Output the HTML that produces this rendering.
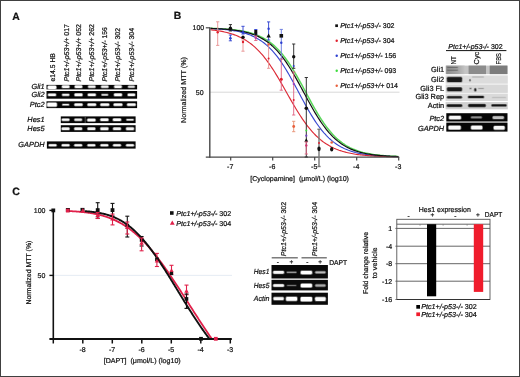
<!DOCTYPE html><html><head><meta charset="utf-8"><style>html,body{margin:0;padding:0;background:#fff;}svg{display:block;will-change:transform;}text{font-family:"Liberation Sans", sans-serif;text-rendering:geometricPrecision;stroke:#111;stroke-width:0.22px;}.hv{stroke-width:0.2px;}.md{stroke-width:0.2px;}.lt{stroke-width:0;}</style></head><body>
<svg width="520" height="377" viewBox="0 0 520 377">
<defs><filter id="bl" x="-50%" y="-50%" width="200%" height="200%"><feGaussianBlur stdDeviation="0.6"/></filter><filter id="bl2" x="-50%" y="-50%" width="200%" height="200%"><feGaussianBlur stdDeviation="0.9"/></filter></defs>
<rect x="0" y="0" width="520" height="377" fill="#fff" />
<rect x="0.5" y="0.5" width="519" height="376" fill="none" stroke="#404040" stroke-width="1"/>
<text x="12.2" y="19.6" font-size="10.4" text-anchor="start" fill="#111" font-weight="bold" >A</text>
<text x="0" y="0" font-size="7.0" text-anchor="start" fill="#111" textLength="28.4" lengthAdjust="spacingAndGlyphs" transform="translate(55.0,81.5) rotate(-90)" >e14.5 HB</text>
<text x="0" y="0" font-size="7.0" text-anchor="start" fill="#111" textLength="57.4" lengthAdjust="spacingAndGlyphs" transform="translate(68.7,81.5) rotate(-90)" ><tspan font-style="italic">Ptc1+/-p53+/+</tspan> 017</text>
<text x="0" y="0" font-size="7.0" text-anchor="start" fill="#111" textLength="57.4" lengthAdjust="spacingAndGlyphs" transform="translate(81.4,81.5) rotate(-90)" ><tspan font-style="italic">Ptc1+/-p53+/+</tspan> 052</text>
<text x="0" y="0" font-size="7.0" text-anchor="start" fill="#111" textLength="57.4" lengthAdjust="spacingAndGlyphs" transform="translate(94.4,81.5) rotate(-90)" ><tspan font-style="italic">Ptc1+/-p53+/+</tspan> 262</text>
<text x="0" y="0" font-size="7.0" text-anchor="start" fill="#111" textLength="54.4" lengthAdjust="spacingAndGlyphs" transform="translate(107.4,81.5) rotate(-90)" ><tspan font-style="italic">Ptc1+/-p53+/-</tspan> 156</text>
<text x="0" y="0" font-size="7.0" text-anchor="start" fill="#111" textLength="53.5" lengthAdjust="spacingAndGlyphs" transform="translate(120.4,81.5) rotate(-90)" ><tspan font-style="italic">Ptc1+/-p53-/-</tspan> 302</text>
<text x="0" y="0" font-size="7.0" text-anchor="start" fill="#111" textLength="53.5" lengthAdjust="spacingAndGlyphs" transform="translate(133.5,81.5) rotate(-90)" ><tspan font-style="italic">Ptc1+/-p53-/-</tspan> 304</text>
<rect x="46.5" y="84.9" width="90.6" height="4.5" fill="#050505" />
<text x="44.6" y="88.9" font-size="7.4" text-anchor="end" fill="#111" font-style="italic" >Gli1</text>
<rect x="46.5" y="91.0" width="90.6" height="7.700000000000003" fill="#050505" />
<text x="44.6" y="96.9" font-size="7.4" text-anchor="end" fill="#111" font-style="italic" >Gli2</text>
<rect x="46.5" y="101.3" width="90.6" height="6.799999999999997" fill="#050505" />
<text x="44.6" y="107.1" font-size="7.4" text-anchor="end" fill="#111" font-style="italic" >Ptc2</text>
<rect x="60.8" y="116.4" width="74.8" height="6.699999999999989" fill="#050505" />
<text x="44.6" y="122.0" font-size="7.4" text-anchor="end" fill="#111" font-style="italic" >Hes1</text>
<rect x="60.8" y="125.2" width="74.8" height="6.700000000000003" fill="#050505" />
<text x="44.6" y="130.7" font-size="7.4" text-anchor="end" fill="#111" font-style="italic" >Hes5</text>
<rect x="46.9" y="141.4" width="88.69999999999999" height="7.199999999999989" fill="#050505" />
<text x="44.6" y="147.0" font-size="7.4" text-anchor="end" fill="#111" font-style="italic" >GAPDH</text>
<rect x="47.00" y="85.20" width="10.00" height="4.30" rx="1.60" fill="#fff" opacity="0.45"/>
<rect x="47.80" y="85.80" width="8.40" height="3.10" rx="1.10" fill="#fff" opacity="1.0"/>
<rect x="61.20" y="85.00" width="9.00" height="3.50" rx="1.60" fill="#fff" opacity="0.43"/>
<rect x="62.00" y="85.60" width="7.40" height="2.30" rx="1.10" fill="#fff" opacity="0.95"/>
<rect x="74.00" y="85.00" width="9.00" height="3.50" rx="1.60" fill="#fff" opacity="0.43"/>
<rect x="74.80" y="85.60" width="7.40" height="2.30" rx="1.10" fill="#fff" opacity="0.95"/>
<rect x="87.40" y="85.10" width="8.80" height="3.30" rx="1.60" fill="#fff" opacity="0.41"/>
<rect x="88.20" y="85.70" width="7.20" height="2.10" rx="1.05" fill="#fff" opacity="0.92"/>
<rect x="100.40" y="85.10" width="8.80" height="3.30" rx="1.60" fill="#fff" opacity="0.41"/>
<rect x="101.20" y="85.70" width="7.20" height="2.10" rx="1.05" fill="#fff" opacity="0.9"/>
<rect x="113.50" y="85.00" width="9.00" height="3.50" rx="1.60" fill="#fff" opacity="0.43"/>
<rect x="114.30" y="85.60" width="7.40" height="2.30" rx="1.10" fill="#fff" opacity="0.95"/>
<rect x="127.30" y="85.20" width="8.20" height="3.10" rx="1.55" fill="#fff" opacity="0.35"/>
<rect x="128.10" y="85.80" width="6.60" height="1.90" rx="0.95" fill="#fff" opacity="0.78"/>
<rect x="47.30" y="93.10" width="9.40" height="3.50" rx="1.60" fill="#fff" opacity="0.43"/>
<rect x="48.10" y="93.70" width="7.80" height="2.30" rx="1.10" fill="#fff" opacity="0.95"/>
<rect x="61.40" y="93.30" width="8.60" height="3.10" rx="1.55" fill="#fff" opacity="0.41"/>
<rect x="62.20" y="93.90" width="7.00" height="1.90" rx="0.95" fill="#fff" opacity="0.92"/>
<rect x="73.80" y="93.00" width="9.40" height="3.70" rx="1.60" fill="#fff" opacity="0.44"/>
<rect x="74.60" y="93.60" width="7.80" height="2.50" rx="1.10" fill="#fff" opacity="0.97"/>
<rect x="87.10" y="93.10" width="9.40" height="3.50" rx="1.60" fill="#fff" opacity="0.43"/>
<rect x="87.90" y="93.70" width="7.80" height="2.30" rx="1.10" fill="#fff" opacity="0.95"/>
<rect x="100.90" y="93.60" width="7.80" height="2.50" rx="1.25" fill="#fff" opacity="0.41"/>
<rect x="101.70" y="94.20" width="6.20" height="1.30" rx="0.65" fill="#fff" opacity="0.9"/>
<rect x="113.30" y="93.00" width="9.40" height="3.70" rx="1.60" fill="#fff" opacity="0.44"/>
<rect x="114.10" y="93.60" width="7.80" height="2.50" rx="1.10" fill="#fff" opacity="0.97"/>
<rect x="127.00" y="93.10" width="8.80" height="3.50" rx="1.60" fill="#fff" opacity="0.43"/>
<rect x="127.80" y="93.70" width="7.20" height="2.30" rx="1.10" fill="#fff" opacity="0.95"/>
<rect x="46.50" y="102.25" width="11.00" height="4.90" rx="1.60" fill="#fff" opacity="0.45"/>
<rect x="47.30" y="102.85" width="9.40" height="3.70" rx="1.10" fill="#fff" opacity="1.0"/>
<rect x="61.70" y="103.45" width="8.00" height="2.50" rx="1.25" fill="#fff" opacity="0.41"/>
<rect x="62.50" y="104.05" width="6.40" height="1.30" rx="0.65" fill="#fff" opacity="0.9"/>
<rect x="73.70" y="102.95" width="9.60" height="3.50" rx="1.60" fill="#fff" opacity="0.44"/>
<rect x="74.50" y="103.55" width="8.00" height="2.30" rx="1.10" fill="#fff" opacity="0.97"/>
<rect x="86.80" y="102.95" width="10.00" height="3.50" rx="1.60" fill="#fff" opacity="0.44"/>
<rect x="87.60" y="103.55" width="8.40" height="2.30" rx="1.10" fill="#fff" opacity="0.97"/>
<rect x="99.70" y="102.95" width="10.20" height="3.50" rx="1.60" fill="#fff" opacity="0.44"/>
<rect x="100.50" y="103.55" width="8.60" height="2.30" rx="1.10" fill="#fff" opacity="0.97"/>
<rect x="112.90" y="102.95" width="10.20" height="3.50" rx="1.60" fill="#fff" opacity="0.44"/>
<rect x="113.70" y="103.55" width="8.60" height="2.30" rx="1.10" fill="#fff" opacity="0.97"/>
<rect x="126.40" y="102.95" width="10.00" height="3.50" rx="1.60" fill="#fff" opacity="0.44"/>
<rect x="127.20" y="103.55" width="8.40" height="2.30" rx="1.10" fill="#fff" opacity="0.97"/>
<rect x="61.10" y="118.10" width="9.00" height="3.30" rx="1.60" fill="#fff" opacity="0.43"/>
<rect x="61.90" y="118.70" width="7.40" height="2.10" rx="1.05" fill="#fff" opacity="0.95"/>
<rect x="73.70" y="118.10" width="9.00" height="3.30" rx="1.60" fill="#fff" opacity="0.40"/>
<rect x="74.50" y="118.70" width="7.40" height="2.10" rx="1.05" fill="#fff" opacity="0.88"/>
<rect x="86.60" y="118.20" width="9.60" height="3.70" rx="1.60" fill="#fff" opacity="0.44"/>
<rect x="87.40" y="118.80" width="8.00" height="2.50" rx="1.10" fill="#fff" opacity="0.97"/>
<rect x="99.60" y="118.00" width="9.60" height="3.50" rx="1.60" fill="#fff" opacity="0.44"/>
<rect x="100.40" y="118.60" width="8.00" height="2.30" rx="1.10" fill="#fff" opacity="0.97"/>
<rect x="112.20" y="118.00" width="9.60" height="3.50" rx="1.60" fill="#fff" opacity="0.44"/>
<rect x="113.00" y="118.60" width="8.00" height="2.30" rx="1.10" fill="#fff" opacity="0.97"/>
<rect x="125.70" y="118.40" width="8.60" height="2.70" rx="1.35" fill="#fff" opacity="0.38"/>
<rect x="126.50" y="119.00" width="7.00" height="1.50" rx="0.75" fill="#fff" opacity="0.85"/>
<rect x="61.00" y="126.90" width="9.20" height="3.70" rx="1.60" fill="#fff" opacity="0.41"/>
<rect x="61.80" y="127.50" width="7.60" height="2.50" rx="1.10" fill="#fff" opacity="0.9"/>
<rect x="73.60" y="126.90" width="9.20" height="3.70" rx="1.60" fill="#fff" opacity="0.41"/>
<rect x="74.40" y="127.50" width="7.60" height="2.50" rx="1.10" fill="#fff" opacity="0.9"/>
<rect x="86.80" y="126.90" width="9.20" height="3.70" rx="1.60" fill="#fff" opacity="0.41"/>
<rect x="87.60" y="127.50" width="7.60" height="2.50" rx="1.10" fill="#fff" opacity="0.9"/>
<rect x="99.70" y="126.80" width="9.40" height="3.90" rx="1.60" fill="#fff" opacity="0.42"/>
<rect x="100.50" y="127.40" width="7.80" height="2.70" rx="1.10" fill="#fff" opacity="0.93"/>
<rect x="112.40" y="126.90" width="9.20" height="3.70" rx="1.60" fill="#fff" opacity="0.41"/>
<rect x="113.20" y="127.50" width="7.60" height="2.50" rx="1.10" fill="#fff" opacity="0.9"/>
<rect x="125.40" y="126.80" width="9.20" height="3.90" rx="1.60" fill="#fff" opacity="0.42"/>
<rect x="126.20" y="127.40" width="7.60" height="2.70" rx="1.10" fill="#fff" opacity="0.93"/>
<rect x="48.00" y="143.75" width="9.20" height="3.10" rx="1.55" fill="#fff" opacity="0.43"/>
<rect x="48.80" y="144.35" width="7.60" height="1.90" rx="0.95" fill="#fff" opacity="0.95"/>
<rect x="61.00" y="143.75" width="9.20" height="3.10" rx="1.55" fill="#fff" opacity="0.43"/>
<rect x="61.80" y="144.35" width="7.60" height="1.90" rx="0.95" fill="#fff" opacity="0.95"/>
<rect x="73.60" y="143.75" width="9.20" height="3.10" rx="1.55" fill="#fff" opacity="0.43"/>
<rect x="74.40" y="144.35" width="7.60" height="1.90" rx="0.95" fill="#fff" opacity="0.95"/>
<rect x="86.80" y="143.75" width="9.20" height="3.10" rx="1.55" fill="#fff" opacity="0.43"/>
<rect x="87.60" y="144.35" width="7.60" height="1.90" rx="0.95" fill="#fff" opacity="0.95"/>
<rect x="99.80" y="143.75" width="9.20" height="3.10" rx="1.55" fill="#fff" opacity="0.43"/>
<rect x="100.60" y="144.35" width="7.60" height="1.90" rx="0.95" fill="#fff" opacity="0.95"/>
<rect x="112.40" y="143.75" width="9.20" height="3.10" rx="1.55" fill="#fff" opacity="0.43"/>
<rect x="113.20" y="144.35" width="7.60" height="1.90" rx="0.95" fill="#fff" opacity="0.95"/>
<rect x="125.40" y="143.75" width="9.20" height="3.10" rx="1.55" fill="#fff" opacity="0.43"/>
<rect x="126.20" y="144.35" width="7.60" height="1.90" rx="0.95" fill="#fff" opacity="0.95"/>
<line x1="85.2" y1="116.6" x2="85.2" y2="122.9" stroke="#777" stroke-width="0.7"/>
<text x="173.7" y="19.3" font-size="10.4" text-anchor="start" fill="#111" font-weight="bold" >B</text>
<line x1="209.8" y1="92.2" x2="399.5" y2="92.2" stroke="#d4d4d4" stroke-width="0.9"/>
<path d="M210.54,28.33 L211.80,28.37 L213.06,28.42 L214.32,28.46 L215.58,28.51 L216.84,28.56 L218.10,28.62 L219.36,28.68 L220.62,28.75 L221.88,28.82 L223.14,28.89 L224.40,28.98 L225.66,29.06 L226.92,29.16 L228.18,29.26 L229.44,29.37 L230.70,29.48 L231.96,29.61 L233.22,29.74 L234.48,29.89 L235.74,30.04 L237.00,30.21 L238.26,30.38 L239.52,30.57 L240.78,30.78 L242.04,31.00 L243.30,31.23 L244.56,31.48 L245.82,31.75 L247.08,32.04 L248.34,32.35 L249.60,32.67 L250.86,33.03 L252.12,33.40 L253.38,33.80 L254.64,34.23 L255.90,34.69 L257.16,35.18 L258.42,35.70 L259.68,36.26 L260.94,36.85 L262.20,37.48 L263.46,38.15 L264.72,38.86 L265.98,39.62 L267.24,40.42 L268.50,41.27 L269.76,42.17 L271.02,43.12 L272.28,44.13 L273.54,45.19 L274.80,46.31 L276.06,47.49 L277.32,48.74 L278.58,50.04 L279.84,51.41 L281.10,52.84 L282.36,54.34 L283.62,55.90 L284.88,57.53 L286.14,59.22 L287.40,60.98 L288.66,62.80 L289.92,64.68 L291.18,66.62 L292.44,68.62 L293.70,70.67 L294.96,72.77 L296.22,74.92 L297.48,77.12 L298.74,79.35 L300.00,81.61 L301.26,83.90 L302.52,86.22 L303.78,88.55 L305.04,90.89 L306.30,93.23 L307.56,95.57 L308.82,97.91 L310.08,100.23 L311.34,102.53 L312.60,104.80 L313.86,107.04 L315.12,109.25 L316.38,111.41 L317.64,113.53 L318.90,115.60 L320.16,117.62 L321.42,119.58 L322.68,121.48 L323.94,123.32 L325.20,125.10 L326.46,126.82 L327.72,128.47 L328.98,130.05 L330.24,131.57 L331.50,133.02 L332.76,134.41 L334.02,135.74 L335.28,137.00 L336.54,138.20 L337.80,139.34 L339.06,140.42 L340.32,141.45 L341.58,142.42 L342.84,143.34 L344.10,144.20 L345.36,145.02 L346.62,145.79 L347.88,146.52 L349.14,147.20 L350.40,147.85 L351.66,148.45 L352.92,149.02 L354.18,149.55 L355.44,150.05 L356.70,150.52 L357.96,150.96 L359.22,151.37 L360.48,151.75 L361.74,152.11 L363.00,152.45 L364.26,152.76 L365.52,153.06 L366.78,153.33 L368.04,153.59 L369.30,153.83 L370.56,154.05 L371.82,154.26 L373.08,154.45 L374.34,154.64 L375.60,154.80 L376.86,154.96 L378.12,155.11 L379.38,155.25 L380.64,155.38 L381.90,155.49 L383.16,155.61 L384.42,155.71 L385.68,155.81 L386.94,155.89 L388.20,155.98 L389.46,156.06 L390.72,156.13 L391.98,156.20 L393.24,156.26 L394.50,156.32 L395.76,156.37 L397.02,156.42 L398.28,156.47" fill="none" stroke="#5ad85a" stroke-width="1.5"/>
<path d="M210.54,28.56 L211.80,28.62 L213.06,28.68 L214.32,28.75 L215.58,28.82 L216.84,28.90 L218.10,28.98 L219.36,29.07 L220.62,29.17 L221.88,29.27 L223.14,29.38 L224.40,29.50 L225.66,29.62 L226.92,29.76 L228.18,29.91 L229.44,30.06 L230.70,30.23 L231.96,30.41 L233.22,30.61 L234.48,30.82 L235.74,31.04 L237.00,31.28 L238.26,31.54 L239.52,31.81 L240.78,32.11 L242.04,32.42 L243.30,32.76 L244.56,33.12 L245.82,33.51 L247.08,33.92 L248.34,34.36 L249.60,34.83 L250.86,35.34 L252.12,35.87 L253.38,36.44 L254.64,37.05 L255.90,37.70 L257.16,38.39 L258.42,39.13 L259.68,39.91 L260.94,40.74 L262.20,41.61 L263.46,42.54 L264.72,43.53 L265.98,44.57 L267.24,45.67 L268.50,46.82 L269.76,48.04 L271.02,49.32 L272.28,50.67 L273.54,52.08 L274.80,53.56 L276.06,55.10 L277.32,56.71 L278.58,58.39 L279.84,60.13 L281.10,61.94 L282.36,63.81 L283.62,65.74 L284.88,67.74 L286.14,69.78 L287.40,71.89 L288.66,74.04 L289.92,76.24 L291.18,78.47 L292.44,80.75 L293.70,83.05 L294.96,85.38 L296.22,87.72 L297.48,90.08 L298.74,92.45 L300.00,94.82 L301.26,97.18 L302.52,99.52 L303.78,101.85 L305.04,104.15 L306.30,106.43 L307.56,108.66 L308.82,110.86 L310.08,113.01 L311.34,115.12 L312.60,117.16 L313.86,119.16 L315.12,121.09 L316.38,122.96 L317.64,124.77 L318.90,126.51 L320.16,128.19 L321.42,129.80 L322.68,131.34 L323.94,132.82 L325.20,134.23 L326.46,135.58 L327.72,136.86 L328.98,138.08 L330.24,139.23 L331.50,140.33 L332.76,141.37 L334.02,142.36 L335.28,143.29 L336.54,144.16 L337.80,144.99 L339.06,145.77 L340.32,146.51 L341.58,147.20 L342.84,147.85 L344.10,148.46 L345.36,149.03 L346.62,149.56 L347.88,150.07 L349.14,150.54 L350.40,150.98 L351.66,151.39 L352.92,151.78 L354.18,152.14 L355.44,152.48 L356.70,152.79 L357.96,153.09 L359.22,153.36 L360.48,153.62 L361.74,153.86 L363.00,154.08 L364.26,154.29 L365.52,154.49 L366.78,154.67 L368.04,154.84 L369.30,154.99 L370.56,155.14 L371.82,155.28 L373.08,155.40 L374.34,155.52 L375.60,155.63 L376.86,155.73 L378.12,155.83 L379.38,155.92 L380.64,156.00 L381.90,156.08 L383.16,156.15 L384.42,156.22 L385.68,156.28 L386.94,156.34 L388.20,156.39 L389.46,156.44 L390.72,156.49 L391.98,156.53 L393.24,156.57 L394.50,156.61 L395.76,156.64 L397.02,156.67 L398.28,156.70" fill="none" stroke="#3848d0" stroke-width="1.15"/>
<path d="M210.54,29.77 L211.80,29.91 L213.06,30.06 L214.32,30.22 L215.58,30.39 L216.84,30.57 L218.10,30.76 L219.36,30.97 L220.62,31.19 L221.88,31.42 L223.14,31.68 L224.40,31.94 L225.66,32.23 L226.92,32.54 L228.18,32.86 L229.44,33.21 L230.70,33.58 L231.96,33.97 L233.22,34.39 L234.48,34.84 L235.74,35.31 L237.00,35.81 L238.26,36.35 L239.52,36.92 L240.78,37.52 L242.04,38.16 L243.30,38.84 L244.56,39.55 L245.82,40.31 L247.08,41.12 L248.34,41.96 L249.60,42.86 L250.86,43.80 L252.12,44.80 L253.38,45.84 L254.64,46.94 L255.90,48.10 L257.16,49.31 L258.42,50.57 L259.68,51.90 L260.94,53.28 L262.20,54.73 L263.46,56.23 L264.72,57.79 L265.98,59.41 L267.24,61.09 L268.50,62.83 L269.76,64.62 L271.02,66.46 L272.28,68.36 L273.54,70.31 L274.80,72.30 L276.06,74.34 L277.32,76.42 L278.58,78.53 L279.84,80.67 L281.10,82.85 L282.36,85.04 L283.62,87.25 L284.88,89.47 L286.14,91.71 L287.40,93.94 L288.66,96.17 L289.92,98.39 L291.18,100.59 L292.44,102.78 L293.70,104.94 L294.96,107.08 L296.22,109.18 L297.48,111.24 L298.74,113.27 L300.00,115.25 L301.26,117.18 L302.52,119.06 L303.78,120.89 L305.04,122.66 L306.30,124.38 L307.56,126.04 L308.82,127.64 L310.08,129.18 L311.34,130.66 L312.60,132.08 L313.86,133.45 L315.12,134.75 L316.38,136.00 L317.64,137.19 L318.90,138.33 L320.16,139.41 L321.42,140.44 L322.68,141.42 L323.94,142.34 L325.20,143.22 L326.46,144.06 L327.72,144.84 L328.98,145.59 L330.24,146.29 L331.50,146.96 L332.76,147.59 L334.02,148.18 L335.28,148.73 L336.54,149.26 L337.80,149.75 L339.06,150.22 L340.32,150.65 L341.58,151.06 L342.84,151.45 L344.10,151.81 L345.36,152.15 L346.62,152.47 L347.88,152.77 L349.14,153.05 L350.40,153.31 L351.66,153.56 L352.92,153.79 L354.18,154.00 L355.44,154.20 L356.70,154.39 L357.96,154.57 L359.22,154.74 L360.48,154.89 L361.74,155.04 L363.00,155.17 L364.26,155.30 L365.52,155.42 L366.78,155.53 L368.04,155.63 L369.30,155.73 L370.56,155.82 L371.82,155.90 L373.08,155.98 L374.34,156.06 L375.60,156.13 L376.86,156.19 L378.12,156.25 L379.38,156.31 L380.64,156.36 L381.90,156.41 L383.16,156.46 L384.42,156.50 L385.68,156.54 L386.94,156.58 L388.20,156.61 L389.46,156.64 L390.72,156.67 L391.98,156.70 L393.24,156.73 L394.50,156.75 L395.76,156.78 L397.02,156.80 L398.28,156.82" fill="none" stroke="#dc2a36" stroke-width="1.15"/>
<path d="M210.54,28.40 L211.80,28.45 L213.06,28.49 L214.32,28.55 L215.58,28.60 L216.84,28.66 L218.10,28.73 L219.36,28.79 L220.62,28.87 L221.88,28.95 L223.14,29.03 L224.40,29.13 L225.66,29.22 L226.92,29.33 L228.18,29.44 L229.44,29.57 L230.70,29.70 L231.96,29.84 L233.22,29.99 L234.48,30.15 L235.74,30.32 L237.00,30.51 L238.26,30.71 L239.52,30.92 L240.78,31.15 L242.04,31.40 L243.30,31.66 L244.56,31.94 L245.82,32.24 L247.08,32.56 L248.34,32.91 L249.60,33.27 L250.86,33.67 L252.12,34.09 L253.38,34.54 L254.64,35.01 L255.90,35.52 L257.16,36.07 L258.42,36.65 L259.68,37.26 L260.94,37.92 L262.20,38.62 L263.46,39.36 L264.72,40.15 L265.98,40.98 L267.24,41.86 L268.50,42.80 L269.76,43.79 L271.02,44.83 L272.28,45.93 L273.54,47.09 L274.80,48.31 L276.06,49.60 L277.32,50.94 L278.58,52.35 L279.84,53.83 L281.10,55.37 L282.36,56.98 L283.62,58.65 L284.88,60.38 L286.14,62.18 L287.40,64.04 L288.66,65.97 L289.92,67.95 L291.18,69.98 L292.44,72.07 L293.70,74.20 L294.96,76.38 L296.22,78.60 L297.48,80.85 L298.74,83.14 L300.00,85.44 L301.26,87.77 L302.52,90.11 L303.78,92.45 L305.04,94.79 L306.30,97.13 L307.56,99.46 L308.82,101.76 L310.08,104.05 L311.34,106.30 L312.60,108.52 L313.86,110.70 L315.12,112.83 L316.38,114.92 L317.64,116.95 L318.90,118.93 L320.16,120.86 L321.42,122.72 L322.68,124.52 L323.94,126.25 L325.20,127.92 L326.46,129.53 L327.72,131.07 L328.98,132.55 L330.24,133.96 L331.50,135.30 L332.76,136.59 L334.02,137.81 L335.28,138.97 L336.54,140.07 L337.80,141.11 L339.06,142.10 L340.32,143.04 L341.58,143.92 L342.84,144.75 L344.10,145.54 L345.36,146.28 L346.62,146.98 L347.88,147.64 L349.14,148.25 L350.40,148.83 L351.66,149.38 L352.92,149.89 L354.18,150.36 L355.44,150.81 L356.70,151.23 L357.96,151.63 L359.22,151.99 L360.48,152.34 L361.74,152.66 L363.00,152.96 L364.26,153.24 L365.52,153.50 L366.78,153.75 L368.04,153.98 L369.30,154.19 L370.56,154.39 L371.82,154.58 L373.08,154.75 L374.34,154.91 L375.60,155.06 L376.86,155.20 L378.12,155.33 L379.38,155.46 L380.64,155.57 L381.90,155.68 L383.16,155.77 L384.42,155.87 L385.68,155.95 L386.94,156.03 L388.20,156.11 L389.46,156.17 L390.72,156.24 L391.98,156.30 L393.24,156.35 L394.50,156.41 L395.76,156.45 L397.02,156.50 L398.28,156.54" fill="none" stroke="#111" stroke-width="1.2"/>
<line x1="209.8" y1="27.2" x2="209.8" y2="157.7" stroke="#484848" stroke-width="1.4"/>
<line x1="205.8" y1="157.1" x2="399.2" y2="157.1" stroke="#484848" stroke-width="1.4"/>
<line x1="205.8" y1="27.8" x2="209.8" y2="27.8" stroke="#484848" stroke-width="1.2"/>
<line x1="230.7" y1="157.1" x2="230.7" y2="160.4" stroke="#484848" stroke-width="1.2"/>
<text x="230.2" y="168.9" font-size="7" text-anchor="middle" fill="#111" >-7</text>
<line x1="272.7" y1="157.1" x2="272.7" y2="160.4" stroke="#484848" stroke-width="1.2"/>
<text x="272.2" y="168.9" font-size="7" text-anchor="middle" fill="#111" >-6</text>
<line x1="314.7" y1="157.1" x2="314.7" y2="160.4" stroke="#484848" stroke-width="1.2"/>
<text x="314.2" y="168.9" font-size="7" text-anchor="middle" fill="#111" >-5</text>
<line x1="356.7" y1="157.1" x2="356.7" y2="160.4" stroke="#484848" stroke-width="1.2"/>
<text x="356.2" y="168.9" font-size="7" text-anchor="middle" fill="#111" >-4</text>
<line x1="398.7" y1="157.1" x2="398.7" y2="160.4" stroke="#484848" stroke-width="1.2"/>
<text x="398.2" y="168.9" font-size="7" text-anchor="middle" fill="#111" >-3</text>
<text x="204.2" y="30.3" font-size="7" text-anchor="end" fill="#222" >100</text>
<text x="203.6" y="94.6" font-size="7" text-anchor="end" fill="#222" >50</text>
<text x="0" y="0" font-size="7.1" text-anchor="middle" fill="#222" textLength="66" lengthAdjust="spacingAndGlyphs" transform="translate(185.9,90.0) rotate(-90)" >Normalized MTT (%)</text>
<text x="250.2" y="181.2" font-size="7" text-anchor="start" fill="#111" textLength="98.8" lengthAdjust="spacingAndGlyphs" >[Cyclopamine]&#160; (&#956;mol/L) (log10)</text>
<line x1="217.7" y1="21.8" x2="217.7" y2="45.4" stroke="#e89090" stroke-width="0.9"/>
<line x1="216.1" y1="21.8" x2="219.29999999999998" y2="21.8" stroke="#e89090" stroke-width="0.9"/>
<line x1="216.1" y1="45.4" x2="219.29999999999998" y2="45.4" stroke="#e89090" stroke-width="0.9"/>
<circle cx="217.7" cy="32.3" r="1.2" fill="#e0202e"/>
<line x1="230.4" y1="24.6" x2="230.4" y2="31.0" stroke="#222" stroke-width="0.9"/>
<line x1="228.8" y1="24.6" x2="232.0" y2="24.6" stroke="#222" stroke-width="0.9"/>
<line x1="228.8" y1="31.0" x2="232.0" y2="31.0" stroke="#222" stroke-width="0.9"/>
<circle cx="230.4" cy="28.2" r="1.7" fill="#111"/>
<line x1="230.4" y1="35.0" x2="230.4" y2="40.8" stroke="#2c3fd0" stroke-width="0.9"/>
<line x1="228.8" y1="35.0" x2="232.0" y2="35.0" stroke="#2c3fd0" stroke-width="0.9"/>
<line x1="228.8" y1="40.8" x2="232.0" y2="40.8" stroke="#2c3fd0" stroke-width="0.9"/>
<circle cx="230.4" cy="38.3" r="1.3" fill="#2c3fd0"/>
<line x1="243.0" y1="26.3" x2="243.0" y2="34.0" stroke="#2c3fd0" stroke-width="0.9"/>
<line x1="241.4" y1="26.3" x2="244.6" y2="26.3" stroke="#2c3fd0" stroke-width="0.9"/>
<line x1="241.4" y1="34.0" x2="244.6" y2="34.0" stroke="#2c3fd0" stroke-width="0.9"/>
<circle cx="243.0" cy="32.5" r="1.3" fill="#2c3fd0"/>
<circle cx="243.0" cy="37.3" r="1.7" fill="#111"/>
<line x1="243.0" y1="40.0" x2="243.0" y2="51.2" stroke="#e89090" stroke-width="0.9"/>
<line x1="241.4" y1="40.0" x2="244.6" y2="40.0" stroke="#e89090" stroke-width="0.9"/>
<line x1="241.4" y1="51.2" x2="244.6" y2="51.2" stroke="#e89090" stroke-width="0.9"/>
<circle cx="243.0" cy="42.0" r="1.2" fill="#e0202e"/>
<line x1="255.8" y1="29.5" x2="255.8" y2="34.5" stroke="#2c3fd0" stroke-width="0.9"/>
<line x1="254.20000000000002" y1="29.5" x2="257.40000000000003" y2="29.5" stroke="#2c3fd0" stroke-width="0.9"/>
<line x1="254.20000000000002" y1="34.5" x2="257.40000000000003" y2="34.5" stroke="#2c3fd0" stroke-width="0.9"/>
<rect x="254.3" y="30.0" width="3.0" height="3.0" fill="#111" />
<circle cx="255.8" cy="33.5" r="1.5" fill="#111"/>
<line x1="255.8" y1="36.0" x2="255.8" y2="40.5" stroke="#e06080" stroke-width="0.9"/>
<line x1="254.20000000000002" y1="36.0" x2="257.40000000000003" y2="36.0" stroke="#e06080" stroke-width="0.9"/>
<line x1="254.20000000000002" y1="40.5" x2="257.40000000000003" y2="40.5" stroke="#e06080" stroke-width="0.9"/>
<circle cx="255.8" cy="38.0" r="1.2" fill="#c040a0"/>
<line x1="268.6" y1="21.9" x2="268.6" y2="40.0" stroke="#2c3fd0" stroke-width="0.9"/>
<line x1="267.0" y1="21.9" x2="270.20000000000005" y2="21.9" stroke="#2c3fd0" stroke-width="0.9"/>
<line x1="267.0" y1="40.0" x2="270.20000000000005" y2="40.0" stroke="#2c3fd0" stroke-width="0.9"/>
<circle cx="268.6" cy="28.8" r="1.2" fill="#2c3fd0"/>
<path d="M268.6,33.55 L270.76000000000005,37.419999999999995 L266.44,37.419999999999995 Z" fill="#111"/>
<line x1="268.6" y1="44.0" x2="268.6" y2="68.3" stroke="#e89090" stroke-width="0.9"/>
<line x1="267.0" y1="44.0" x2="270.20000000000005" y2="44.0" stroke="#e89090" stroke-width="0.9"/>
<line x1="267.0" y1="68.3" x2="270.20000000000005" y2="68.3" stroke="#e89090" stroke-width="0.9"/>
<circle cx="268.6" cy="44.4" r="1.2" fill="#e8603c"/>
<circle cx="268.6" cy="58.5" r="1.0" fill="#e0202e"/>
<line x1="281.3" y1="29.4" x2="281.3" y2="59.0" stroke="#7080e0" stroke-width="1.0"/>
<line x1="279.7" y1="29.4" x2="282.90000000000003" y2="29.4" stroke="#7080e0" stroke-width="1.0"/>
<line x1="279.7" y1="59.0" x2="282.90000000000003" y2="59.0" stroke="#7080e0" stroke-width="1.0"/>
<rect x="279.5" y="34.0" width="3.6" height="3.6" fill="#111" />
<circle cx="281.3" cy="42.7" r="1.2" fill="#2c3fd0"/>
<line x1="281.3" y1="59.0" x2="281.3" y2="90.2" stroke="#e06080" stroke-width="0.9"/>
<line x1="279.7" y1="59.0" x2="282.90000000000003" y2="59.0" stroke="#e06080" stroke-width="0.9"/>
<line x1="279.7" y1="90.2" x2="282.90000000000003" y2="90.2" stroke="#e06080" stroke-width="0.9"/>
<circle cx="281.3" cy="79.2" r="1.5" fill="#e0202e"/>
<line x1="293.7" y1="44.0" x2="293.7" y2="68.3" stroke="#222" stroke-width="0.9"/>
<line x1="292.09999999999997" y1="44.0" x2="295.3" y2="44.0" stroke="#222" stroke-width="0.9"/>
<line x1="292.09999999999997" y1="68.3" x2="295.3" y2="68.3" stroke="#222" stroke-width="0.9"/>
<circle cx="293.7" cy="56.7" r="1.7" fill="#111"/>
<circle cx="293.7" cy="66.0" r="1.0" fill="#2c3fd0"/>
<line x1="293.7" y1="72.0" x2="293.7" y2="115.0" stroke="#e06080" stroke-width="0.9"/>
<line x1="292.09999999999997" y1="72.0" x2="295.3" y2="72.0" stroke="#e06080" stroke-width="0.9"/>
<line x1="292.09999999999997" y1="115.0" x2="295.3" y2="115.0" stroke="#e06080" stroke-width="0.9"/>
<circle cx="293.7" cy="84.0" r="1.1" fill="#a040c0"/>
<circle cx="293.7" cy="100.0" r="1.0" fill="#e0202e"/>
<line x1="293.7" y1="121.3" x2="293.7" y2="131.7" stroke="#e89070" stroke-width="0.9"/>
<line x1="292.09999999999997" y1="121.3" x2="295.3" y2="121.3" stroke="#e89070" stroke-width="0.9"/>
<line x1="292.09999999999997" y1="131.7" x2="295.3" y2="131.7" stroke="#e89070" stroke-width="0.9"/>
<circle cx="293.7" cy="126.5" r="1.4" fill="#e8603c"/>
<line x1="306.3" y1="77.5" x2="306.3" y2="157.0" stroke="#333" stroke-width="1.0"/>
<line x1="304.7" y1="77.5" x2="307.90000000000003" y2="77.5" stroke="#333" stroke-width="1.0"/>
<line x1="304.7" y1="157.0" x2="307.90000000000003" y2="157.0" stroke="#333" stroke-width="1.0"/>
<circle cx="306.3" cy="108.2" r="1.8" fill="#111"/>
<circle cx="306.3" cy="130.5" r="1.0" fill="#3ddc3d"/>
<circle cx="306.3" cy="135.7" r="1.1" fill="#7040c0"/>
<path d="M306.3,138.2 L308.22,141.64 L304.38,141.64 Z" fill="#111"/>
<line x1="306.3" y1="142.0" x2="306.3" y2="154.0" stroke="#e06080" stroke-width="0.9"/>
<line x1="304.7" y1="142.0" x2="307.90000000000003" y2="142.0" stroke="#e06080" stroke-width="0.9"/>
<line x1="304.7" y1="154.0" x2="307.90000000000003" y2="154.0" stroke="#e06080" stroke-width="0.9"/>
<circle cx="306.3" cy="145.4" r="1.2" fill="#d03070"/>
<line x1="319.0" y1="129.3" x2="319.0" y2="166.5" stroke="#777" stroke-width="1.4"/>
<line x1="317.4" y1="129.3" x2="320.6" y2="129.3" stroke="#777" stroke-width="1.4"/>
<line x1="317.4" y1="166.5" x2="320.6" y2="166.5" stroke="#777" stroke-width="1.4"/>
<circle cx="319.0" cy="143.0" r="1.0" fill="#e0202e"/>
<ellipse cx="319.0" cy="148.8" rx="1.7" ry="2.4" fill="#111"/>
<circle cx="331.7" cy="142.5" r="1.3" fill="#e8603c"/>
<ellipse cx="331.7" cy="149.3" rx="1.6" ry="2.2" fill="#111"/>
<rect x="335.25" y="24.349999999999998" width="2.7" height="2.7" fill="#111" />
<text x="340.2" y="28.4" font-size="7" text-anchor="start" fill="#111" ><tspan font-style="italic">Ptc1+/-p53-/-</tspan> 302</text>
<circle cx="336.7" cy="40.7" r="1.2" fill="#e0202e"/>
<text x="340.2" y="43.400000000000006" font-size="7" text-anchor="start" fill="#111" ><tspan font-style="italic">Ptc1+/-p53-/-</tspan> 304</text>
<circle cx="336.7" cy="55.7" r="1.2" fill="#2c3fd0"/>
<text x="340.2" y="58.400000000000006" font-size="7" text-anchor="start" fill="#111" ><tspan font-style="italic">Ptc1+/-p53+/-</tspan> 156</text>
<circle cx="336.7" cy="70.7" r="1.2" fill="#3ddc3d"/>
<text x="340.2" y="73.4" font-size="7" text-anchor="start" fill="#111" ><tspan font-style="italic">Ptc1+/-p53+/-</tspan> 093</text>
<circle cx="336.7" cy="85.7" r="1.2" fill="#e8603c"/>
<text x="340.2" y="88.4" font-size="7" text-anchor="start" fill="#111" ><tspan font-style="italic">Ptc1+/-p53+/+</tspan> 014</text>
<text x="448.3" y="48.6" font-size="7" text-anchor="start" fill="#111" ><tspan font-style="italic">Ptc1+/-p53-/-</tspan> 302</text>
<line x1="446.0" y1="50.6" x2="506.4" y2="50.6" stroke="#111" stroke-width="1.0"/>
<text x="0" y="0" font-size="7.0" text-anchor="start" fill="#111" textLength="8.2" lengthAdjust="spacingAndGlyphs" transform="translate(455.6,64.4) rotate(-90)" >NT</text>
<text x="0" y="0" font-size="7.2" text-anchor="start" fill="#111" textLength="12.6" lengthAdjust="spacingAndGlyphs" transform="translate(478.9,64.4) rotate(-90)" >Cyc</text>
<text x="0" y="0" font-size="7.0" text-anchor="start" fill="#111" textLength="11.3" lengthAdjust="spacingAndGlyphs" transform="translate(501.4,64.4) rotate(-90)" >FBS</text>
<rect x="445.6" y="65.6" width="62.19999999999999" height="8.5" fill="#c4c4c4" />
<linearGradient id="g1" x1="0" x2="1" y1="0" y2="0"><stop offset="0" stop-color="#8e8e8e"/><stop offset="0.6" stop-color="#a4a4a4"/><stop offset="1" stop-color="#c2c2c2"/></linearGradient>
<rect x="446.2" y="65.6" width="18.5" height="8.5" fill="url(#g1)" />
<rect x="446.70" y="66.85" width="11.60" height="1.50" rx="0.75" fill="#5a5a5a" opacity="0.32"/>
<rect x="447.50" y="67.30" width="10.00" height="0.60" rx="0.30" fill="#5a5a5a" opacity="0.7"/>
<rect x="446.70" y="69.35" width="11.60" height="1.70" rx="0.85" fill="#5a5a5a" opacity="0.32"/>
<rect x="447.50" y="69.90" width="10.00" height="0.60" rx="0.30" fill="#5a5a5a" opacity="0.7"/>
<rect x="468.6" y="65.6" width="17.4" height="8.5" fill="#8c8c8c" />
<rect x="489.7" y="65.6" width="17.6" height="8.5" fill="#7c7c7c" />
<rect x="445.6" y="75.4" width="62.19999999999999" height="8.3" fill="#dcdcdc" />
<rect x="446.45" y="76.60" width="16.10" height="6.00" rx="1.60" fill="#1a1a1a" opacity="0.45"/>
<rect x="447.25" y="77.20" width="14.50" height="4.80" rx="1.10" fill="#1a1a1a" opacity="1.0"/>
<rect x="468.95" y="78.70" width="2.10" height="3.00" rx="1.50" fill="#505050" opacity="0.41"/>
<rect x="469.50" y="79.30" width="1.00" height="1.80" rx="0.90" fill="#505050" opacity="0.9"/>
<rect x="471.70" y="76.35" width="12.60" height="1.30" rx="0.65" fill="#a0a0a0" opacity="0.36"/>
<rect x="472.50" y="76.70" width="11.00" height="0.60" rx="0.30" fill="#a0a0a0" opacity="0.8"/>
<rect x="445.6" y="84.5" width="62.19999999999999" height="8.4" fill="#d8d8d8" />
<rect x="446.45" y="86.95" width="16.10" height="4.70" rx="1.60" fill="#1a1a1a" opacity="0.45"/>
<rect x="447.25" y="87.55" width="14.50" height="3.50" rx="1.10" fill="#1a1a1a" opacity="1.0"/>
<rect x="473.75" y="87.80" width="3.10" height="4.00" rx="1.60" fill="#222" opacity="0.45"/>
<rect x="474.55" y="88.40" width="1.50" height="2.80" rx="1.10" fill="#222" opacity="1.0"/>
<rect x="468.95" y="87.50" width="3.10" height="2.00" rx="1.00" fill="#707070" opacity="0.41"/>
<rect x="469.75" y="88.10" width="1.50" height="0.80" rx="0.40" fill="#707070" opacity="0.9"/>
<rect x="477.70" y="87.85" width="6.60" height="1.50" rx="0.75" fill="#909090" opacity="0.36"/>
<rect x="478.50" y="88.30" width="5.00" height="0.60" rx="0.30" fill="#909090" opacity="0.8"/>
<rect x="445.6" y="93.6" width="62.19999999999999" height="7.4" fill="#dadada" />
<rect x="446.45" y="95.75" width="16.10" height="3.10" rx="1.55" fill="#222" opacity="0.45"/>
<rect x="447.25" y="96.35" width="14.50" height="1.90" rx="0.95" fill="#222" opacity="1.0"/>
<rect x="467.45" y="95.45" width="17.10" height="3.10" rx="1.55" fill="#1a1a1a" opacity="0.45"/>
<rect x="468.25" y="96.05" width="15.50" height="1.90" rx="0.95" fill="#1a1a1a" opacity="1.0"/>
<rect x="491.70" y="96.65" width="14.60" height="1.70" rx="0.85" fill="#b0b0b0" opacity="0.36"/>
<rect x="492.50" y="97.20" width="13.00" height="0.60" rx="0.30" fill="#b0b0b0" opacity="0.8"/>
<rect x="445.6" y="102.1" width="62.19999999999999" height="7.2" fill="#d0d0d0" />
<rect x="446.20" y="103.95" width="16.60" height="3.30" rx="1.60" fill="#151515" opacity="0.45"/>
<rect x="447.00" y="104.55" width="15.00" height="2.10" rx="1.05" fill="#151515" opacity="1.0"/>
<rect x="467.70" y="103.75" width="18.60" height="3.70" rx="1.60" fill="#111" opacity="0.45"/>
<rect x="468.50" y="104.35" width="17.00" height="2.50" rx="1.10" fill="#111" opacity="1.0"/>
<rect x="490.95" y="103.95" width="16.10" height="2.90" rx="1.45" fill="#151515" opacity="0.45"/>
<rect x="491.75" y="104.55" width="14.50" height="1.70" rx="0.85" fill="#151515" opacity="1.0"/>
<rect x="446.3" y="113.2" width="61.2" height="8.3" fill="#050505" />
<rect x="448.40" y="115.35" width="13.20" height="4.50" rx="1.60" fill="#fff" opacity="0.43"/>
<rect x="449.20" y="115.95" width="11.60" height="3.30" rx="1.10" fill="#fff" opacity="0.95"/>
<rect x="470.35" y="115.95" width="12.10" height="2.90" rx="1.45" fill="#999" opacity="0.38"/>
<rect x="471.15" y="116.55" width="10.50" height="1.70" rx="0.85" fill="#999" opacity="0.85"/>
<rect x="492.00" y="115.65" width="12.60" height="3.90" rx="1.60" fill="#ccc" opacity="0.41"/>
<rect x="492.80" y="116.25" width="11.00" height="2.70" rx="1.10" fill="#ccc" opacity="0.9"/>
<rect x="446.3" y="122.6" width="61.2" height="9.0" fill="#050505" />
<rect x="447.80" y="125.15" width="13.60" height="4.90" rx="1.60" fill="#fff" opacity="0.44"/>
<rect x="448.60" y="125.75" width="12.00" height="3.70" rx="1.10" fill="#fff" opacity="0.97"/>
<rect x="470.40" y="125.25" width="12.60" height="4.70" rx="1.60" fill="#fff" opacity="0.43"/>
<rect x="471.20" y="125.85" width="11.00" height="3.50" rx="1.10" fill="#fff" opacity="0.95"/>
<rect x="493.10" y="125.45" width="12.20" height="4.70" rx="1.60" fill="#fff" opacity="0.43"/>
<rect x="493.90" y="126.05" width="10.60" height="3.50" rx="1.10" fill="#fff" opacity="0.95"/>
<text x="444.2" y="72.3" font-size="7.4" text-anchor="end" fill="#111" >Gli1</text>
<text x="444.2" y="81.7" font-size="7.4" text-anchor="end" fill="#111" >Gli2</text>
<text x="444.2" y="90.7" font-size="7.4" text-anchor="end" fill="#111" >Gli3 FL</text>
<text x="444.2" y="99.4" font-size="7.4" text-anchor="end" fill="#111" >Gli3 Rep</text>
<text x="444.2" y="108.0" font-size="7.4" text-anchor="end" fill="#111" >Actin</text>
<text x="444.2" y="120.6" font-size="7.4" text-anchor="end" fill="#111" font-style="italic" >Ptc2</text>
<text x="444.2" y="130.9" font-size="7.4" text-anchor="end" fill="#111" font-style="italic" >GAPDH</text>
<text x="12.3" y="195.2" font-size="10.6" text-anchor="start" fill="#111" font-weight="bold" >C</text>
<line x1="53.3" y1="275.4" x2="232" y2="275.4" stroke="#e2eaf2" stroke-width="0.9"/>
<path d="M67.80,211.02 L68.30,211.05 L68.80,211.07 L69.30,211.09 L69.80,211.12 L70.30,211.14 L70.80,211.17 L71.30,211.19 L71.80,211.22 L72.30,211.25 L72.80,211.28 L73.30,211.31 L73.80,211.34 L74.30,211.37 L74.80,211.40 L75.30,211.44 L75.80,211.47 L76.30,211.51 L76.80,211.54 L77.30,211.58 L77.80,211.62 L78.30,211.66 L78.80,211.70 L79.30,211.74 L79.80,211.79 L80.30,211.83 L80.80,211.88 L81.30,211.93 L81.80,211.98 L82.30,212.03 L82.80,212.08 L83.30,212.13 L83.80,212.19 L84.30,212.24 L84.80,212.30 L85.30,212.36 L85.80,212.42 L86.30,212.48 L86.80,212.55 L87.30,212.61 L87.80,212.68 L88.30,212.75 L88.80,212.82 L89.30,212.90 L89.80,212.97 L90.30,213.05 L90.80,213.13 L91.30,213.21 L91.80,213.29 L92.30,213.38 L92.80,213.47 L93.30,213.56 L93.80,213.65 L94.30,213.74 L94.80,213.84 L95.30,213.94 L95.80,214.04 L96.30,214.15 L96.80,214.25 L97.30,214.36 L97.80,214.47 L98.30,214.59 L98.80,214.70 L99.30,214.82 L99.80,214.95 L100.30,215.07 L100.80,215.20 L101.30,215.33 L101.80,215.47 L102.30,215.60 L102.80,215.74 L103.30,215.89 L103.80,216.03 L104.30,216.18 L104.80,216.34 L105.30,216.49 L105.80,216.65 L106.30,216.82 L106.80,216.98 L107.30,217.15 L107.80,217.33 L108.30,217.50 L108.80,217.68 L109.30,217.87 L109.80,218.06 L110.30,218.25 L110.80,218.44 L111.30,218.64 L111.80,218.85 L112.30,219.05 L112.80,219.26 L113.30,219.48 L113.80,219.70 L114.30,219.92 L114.80,220.15 L115.30,220.38 L115.80,220.62 L116.30,220.86 L116.80,221.10 L117.30,221.35 L117.80,221.61 L118.30,221.86 L118.80,222.13 L119.30,222.39 L119.80,222.67 L120.30,222.94 L120.80,223.22 L121.30,223.51 L121.80,223.80 L122.30,224.09 L122.80,224.39 L123.30,224.70 L123.80,225.01 L124.30,225.32 L124.80,225.64 L125.30,225.96 L125.80,226.29 L126.30,226.63 L126.80,226.97 L127.30,227.31 L127.80,227.66 L128.30,228.01 L128.80,228.37 L129.30,228.74 L129.80,229.11 L130.30,229.48 L130.80,229.86 L131.30,230.25 L131.80,230.64 L132.30,231.03 L132.80,231.43 L133.30,231.84 L133.80,232.25 L134.30,232.67 L134.80,233.09 L135.30,233.52 L135.80,233.95 L136.30,234.39 L136.80,234.83 L137.30,235.28 L137.80,235.73 L138.30,236.19 L138.80,236.65 L139.30,237.12 L139.80,237.60 L140.30,238.08 L140.80,238.56 L141.30,239.05 L141.80,239.55 L142.30,240.05 L142.80,240.55 L143.30,241.07 L143.80,241.58 L144.30,242.10 L144.80,242.63 L145.30,243.16 L145.80,243.70 L146.30,244.24 L146.80,244.79 L147.30,245.34 L147.80,245.90 L148.30,246.46 L148.80,247.03 L149.30,247.60 L149.80,248.17 L150.30,248.76 L150.80,249.34 L151.30,249.93 L151.80,250.53 L152.30,251.13 L152.80,251.73 L153.30,252.34 L153.80,252.96 L154.30,253.58 L154.80,254.20 L155.30,254.83 L155.80,255.46 L156.30,256.10 L156.80,256.74 L157.30,257.38 L157.80,258.03 L158.30,258.68 L158.80,259.34 L159.30,260.00 L159.80,260.67 L160.30,261.34 L160.80,262.01 L161.30,262.69 L161.80,263.37 L162.30,264.05 L162.80,264.74 L163.30,265.43 L163.80,266.13 L164.30,266.83 L164.80,267.53 L165.30,268.23 L165.80,268.94 L166.30,269.65 L166.80,270.37 L167.30,271.09 L167.80,271.81 L168.30,272.53 L168.80,273.26 L169.30,273.99 L169.80,274.72 L170.30,275.45 L170.80,276.19 L171.30,276.93 L171.80,277.67 L172.30,278.42 L172.80,279.16 L173.30,279.91 L173.80,280.66 L174.30,281.42 L174.80,282.17 L175.30,282.93 L175.80,283.69 L176.30,284.45 L176.80,285.21 L177.30,285.97 L177.80,286.74 L178.30,287.51 L178.80,288.28 L179.30,289.05 L179.80,289.82 L180.30,290.59 L180.80,291.36 L181.30,292.14 L181.80,292.92 L182.30,293.69 L182.80,294.47 L183.30,295.25 L183.80,296.03 L184.30,296.81 L184.80,297.59 L185.30,298.37 L185.80,299.15 L186.30,299.93 L186.80,300.71 L187.30,301.49 L187.80,302.28 L188.30,303.06 L188.80,303.84 L189.30,304.62 L189.80,305.41 L190.30,306.19 L190.80,306.97 L191.30,307.75 L191.80,308.53 L192.30,309.31 L192.80,310.09 L193.30,310.87 L193.80,311.65 L194.30,312.43 L194.80,313.21 L195.30,313.99 L195.80,314.76 L196.30,315.54 L196.80,316.31 L197.30,317.08 L197.80,317.86 L198.30,318.63 L198.80,319.40 L199.30,320.16 L199.80,320.93 L200.30,321.70 L200.80,322.46 L201.30,323.22 L201.80,323.98 L202.30,324.74 L202.80,325.50 L203.30,326.26 L203.80,327.01 L204.30,327.77 L204.80,328.52 L205.30,329.27 L205.80,330.01 L206.30,330.76 L206.80,331.50 L207.30,332.24 L207.80,332.98 L208.30,333.72 L208.80,334.45 L209.30,335.18 L209.80,335.91 L210.30,336.64 L210.80,337.37 L211.30,338.09 L211.79,338.80" fill="none" stroke="#e0204a" stroke-width="1.8"/>
<path d="M85.00,211.20 L85.50,211.24 L86.00,211.27 L86.50,211.31 L87.00,211.35 L87.50,211.39 L88.00,211.43 L88.50,211.48 L89.00,211.52 L89.50,211.57 L90.00,211.62 L90.50,211.67 L91.00,211.72 L91.50,211.77 L92.00,211.83 L92.50,211.89 L93.00,211.95 L93.50,212.01 L94.00,212.07 L94.50,212.14 L95.00,212.21 L95.50,212.28 L96.00,212.35 L96.50,212.43 L97.00,212.51 L97.50,212.59 L98.00,212.67 L98.50,212.76 L99.00,212.85 L99.50,212.94 L100.00,213.04 L100.50,213.13 L101.00,213.23 L101.50,213.34 L102.00,213.45 L102.50,213.56 L103.00,213.67 L103.50,213.79 L104.00,213.91 L104.50,214.03 L105.00,214.16 L105.50,214.29 L106.00,214.43 L106.50,214.57 L107.00,214.71 L107.50,214.86 L108.00,215.01 L108.50,215.17 L109.00,215.33 L109.50,215.49 L110.00,215.66 L110.50,215.83 L111.00,216.01 L111.50,216.19 L112.00,216.38 L112.50,216.57 L113.00,216.77 L113.50,216.97 L114.00,217.17 L114.50,217.38 L115.00,217.60 L115.50,217.82 L116.00,218.05 L116.50,218.28 L117.00,218.52 L117.50,218.76 L118.00,219.01 L118.50,219.27 L119.00,219.53 L119.50,219.79 L120.00,220.06 L120.50,220.34 L121.00,220.62 L121.50,220.91 L122.00,221.21 L122.50,221.51 L123.00,221.82 L123.50,222.13 L124.00,222.45 L124.50,222.77 L125.00,223.11 L125.50,223.45 L126.00,223.79 L126.50,224.14 L127.00,224.50 L127.50,224.86 L128.00,225.23 L128.50,225.61 L129.00,226.00 L129.50,226.39 L130.00,226.79 L130.50,227.19 L131.00,227.60 L131.50,228.02 L132.00,228.44 L132.50,228.87 L133.00,229.31 L133.50,229.76 L134.00,230.21 L134.50,230.67 L135.00,231.13 L135.50,231.60 L136.00,232.08 L136.50,232.57 L137.00,233.06 L137.50,233.56 L138.00,234.06 L138.50,234.58 L139.00,235.10 L139.50,235.62 L140.00,236.15 L140.50,236.69 L141.00,237.24 L141.50,237.79 L142.00,238.35 L142.50,238.92 L143.00,239.49 L143.50,240.07 L144.00,240.65 L144.50,241.24 L145.00,241.84 L145.50,242.44 L146.00,243.05 L146.50,243.67 L147.00,244.29 L147.50,244.92 L148.00,245.55 L148.50,246.19 L149.00,246.84 L149.50,247.49 L150.00,248.14 L150.50,248.81 L151.00,249.48 L151.50,250.15 L152.00,250.83 L152.50,251.51 L153.00,252.20 L153.50,252.89 L154.00,253.59 L154.50,254.30 L155.00,255.01 L155.50,255.72 L156.00,256.44 L156.50,257.16 L157.00,257.89 L157.50,258.62 L158.00,259.36 L158.50,260.10 L159.00,260.84 L159.50,261.59 L160.00,262.34 L160.50,263.10 L161.00,263.86 L161.50,264.62 L162.00,265.39 L162.50,266.16 L163.00,266.93 L163.50,267.71 L164.00,268.49 L164.50,269.27 L165.00,270.05 L165.50,270.84 L166.00,271.63 L166.50,272.43 L167.00,273.22 L167.50,274.02 L168.00,274.82 L168.50,275.62 L169.00,276.42 L169.50,277.23 L170.00,278.03 L170.50,278.84 L171.00,279.65 L171.50,280.46 L172.00,281.28 L172.50,282.09 L173.00,282.90 L173.50,283.72 L174.00,284.54 L174.50,285.35 L175.00,286.17 L175.50,286.99 L176.00,287.81 L176.50,288.63 L177.00,289.45 L177.50,290.27 L178.00,291.09 L178.50,291.90 L179.00,292.72 L179.50,293.54 L180.00,294.36 L180.50,295.18 L181.00,295.99 L181.50,296.81 L182.00,297.63 L182.50,298.44 L183.00,299.25 L183.50,300.07 L184.00,300.88 L184.50,301.69 L185.00,302.50 L185.50,303.30 L186.00,304.11 L186.50,304.91 L187.00,305.72 L187.50,306.52 L188.00,307.31 L188.50,308.11 L189.00,308.91 L189.50,309.70 L190.00,310.49 L190.50,311.28 L191.00,312.06 L191.50,312.85 L192.00,313.63 L192.50,314.41 L193.00,315.18 L193.50,315.96 L194.00,316.73 L194.50,317.50 L195.00,318.26 L195.50,319.03 L196.00,319.79 L196.50,320.54 L197.00,321.30 L197.50,322.05 L198.00,322.79 L198.50,323.54 L199.00,324.28 L199.50,325.02 L200.00,325.75 L200.50,326.48 L201.00,327.21 L201.50,327.93 L202.00,328.65 L202.50,329.37 L203.00,330.08 L203.50,330.79 L204.00,331.50 L204.50,332.20 L205.00,332.90 L205.50,333.59 L206.00,334.28 L206.50,334.97 L207.00,335.65 L207.50,336.33 L208.00,337.01 L208.50,337.68 L209.00,338.35 L209.34,338.80" fill="none" stroke="#111" stroke-width="1.9"/>
<line x1="53.3" y1="209.4" x2="53.3" y2="339.6" stroke="#111" stroke-width="1.6"/>
<line x1="49.4" y1="339.0" x2="231.8" y2="339.0" stroke="#111" stroke-width="1.9"/>
<line x1="49.4" y1="210.4" x2="53.3" y2="210.4" stroke="#111" stroke-width="1.4"/>
<line x1="49.4" y1="275.4" x2="53.3" y2="275.4" stroke="#111" stroke-width="1.4"/>
<line x1="53.3" y1="338.8" x2="53.3" y2="343.5" stroke="#111" stroke-width="1.5"/>
<line x1="82.8" y1="338.8" x2="82.8" y2="343.5" stroke="#111" stroke-width="1.5"/>
<text x="82.5" y="352.1" font-size="7" text-anchor="middle" fill="#111" >-8</text>
<line x1="112.3" y1="338.8" x2="112.3" y2="343.5" stroke="#111" stroke-width="1.5"/>
<text x="112.0" y="352.1" font-size="7" text-anchor="middle" fill="#111" >-7</text>
<line x1="141.8" y1="338.8" x2="141.8" y2="343.5" stroke="#111" stroke-width="1.5"/>
<text x="141.5" y="352.1" font-size="7" text-anchor="middle" fill="#111" >-6</text>
<line x1="171.3" y1="338.8" x2="171.3" y2="343.5" stroke="#111" stroke-width="1.5"/>
<text x="171.0" y="352.1" font-size="7" text-anchor="middle" fill="#111" >-5</text>
<line x1="200.8" y1="338.8" x2="200.8" y2="343.5" stroke="#111" stroke-width="1.5"/>
<text x="200.5" y="352.1" font-size="7" text-anchor="middle" fill="#111" >-4</text>
<line x1="230.3" y1="338.8" x2="230.3" y2="343.5" stroke="#111" stroke-width="1.5"/>
<text x="230.0" y="352.1" font-size="7" text-anchor="middle" fill="#111" >-3</text>
<text x="45.5" y="212.9" font-size="7" text-anchor="end" fill="#222" >100</text>
<text x="45.3" y="277.9" font-size="7" text-anchor="end" fill="#222" >50</text>
<text x="0" y="0" font-size="7.0" text-anchor="middle" fill="#222" textLength="64" lengthAdjust="spacingAndGlyphs" transform="translate(30.5,272.6) rotate(-90)" >Normalized MTT (%)</text>
<text x="103.7" y="363.4" font-size="7" text-anchor="start" fill="#111" textLength="77" lengthAdjust="spacingAndGlyphs" >[DAPT]&#160; (&#956;mol/L) (log10)</text>
<rect x="51.4" y="208.5" width="3.8" height="3.8" fill="#111" />
<rect x="65.9" y="208.0" width="4.0" height="4.0" fill="#111" />
<rect x="65.89999999999999" y="208.7" width="3.8" height="3.8" fill="#e0204a" />
<rect x="80.5" y="207.9" width="4.0" height="4.0" fill="#111" />
<path d="M82.9,208.1 L85.30000000000001,212.4 L80.5,212.4 Z" fill="#e0204a"/>
<line x1="97.7" y1="202.7" x2="97.7" y2="218.2" stroke="#111" stroke-width="1.1"/>
<line x1="95.7" y1="202.7" x2="99.7" y2="202.7" stroke="#111" stroke-width="1.1"/>
<line x1="95.7" y1="218.2" x2="99.7" y2="218.2" stroke="#111" stroke-width="1.1"/>
<rect x="95.8" y="208.2" width="3.8" height="3.8" fill="#111" />
<line x1="97.7" y1="212.5" x2="97.7" y2="218.5" stroke="#e0204a" stroke-width="1.1"/>
<line x1="95.7" y1="212.5" x2="99.7" y2="212.5" stroke="#e0204a" stroke-width="1.1"/>
<line x1="95.7" y1="218.5" x2="99.7" y2="218.5" stroke="#e0204a" stroke-width="1.1"/>
<path d="M97.7,212.825 L99.98,216.91 L95.42,216.91 Z" fill="#e0204a"/>
<line x1="112.5" y1="203.4" x2="112.5" y2="216.0" stroke="#111" stroke-width="1.1"/>
<line x1="110.5" y1="203.4" x2="114.5" y2="203.4" stroke="#111" stroke-width="1.1"/>
<line x1="110.5" y1="216.0" x2="114.5" y2="216.0" stroke="#111" stroke-width="1.1"/>
<rect x="110.6" y="208.2" width="3.8" height="3.8" fill="#111" />
<line x1="112.5" y1="214.1" x2="112.5" y2="224.9" stroke="#e0204a" stroke-width="1.1"/>
<line x1="110.5" y1="214.1" x2="114.5" y2="214.1" stroke="#e0204a" stroke-width="1.1"/>
<line x1="110.5" y1="224.9" x2="114.5" y2="224.9" stroke="#e0204a" stroke-width="1.1"/>
<path d="M112.5,216.425 L114.78,220.51000000000002 L110.22,220.51000000000002 Z" fill="#e0204a"/>
<line x1="127.3" y1="216.2" x2="127.3" y2="237.0" stroke="#111" stroke-width="1.1"/>
<line x1="125.3" y1="216.2" x2="129.3" y2="216.2" stroke="#111" stroke-width="1.1"/>
<line x1="125.3" y1="237.0" x2="129.3" y2="237.0" stroke="#111" stroke-width="1.1"/>
<rect x="125.5" y="223.7" width="3.6" height="3.6" fill="#111" />
<line x1="127.3" y1="222.0" x2="127.3" y2="234.0" stroke="#e0204a" stroke-width="1.1"/>
<line x1="125.3" y1="222.0" x2="129.3" y2="222.0" stroke="#e0204a" stroke-width="1.1"/>
<line x1="125.3" y1="234.0" x2="129.3" y2="234.0" stroke="#e0204a" stroke-width="1.1"/>
<path d="M127.3,224.825 L129.57999999999998,228.91 L125.02,228.91 Z" fill="#e0204a"/>
<line x1="141.6" y1="236.5" x2="141.6" y2="246.0" stroke="#111" stroke-width="1.1"/>
<line x1="139.6" y1="236.5" x2="143.6" y2="236.5" stroke="#111" stroke-width="1.1"/>
<line x1="139.6" y1="246.0" x2="143.6" y2="246.0" stroke="#111" stroke-width="1.1"/>
<rect x="139.79999999999998" y="238.2" width="3.6" height="3.6" fill="#111" />
<line x1="141.6" y1="238.0" x2="141.6" y2="250.8" stroke="#e0204a" stroke-width="1.1"/>
<line x1="139.6" y1="238.0" x2="143.6" y2="238.0" stroke="#e0204a" stroke-width="1.1"/>
<line x1="139.6" y1="250.8" x2="143.6" y2="250.8" stroke="#e0204a" stroke-width="1.1"/>
<path d="M141.6,240.625 L143.88,244.71 L139.32,244.71 Z" fill="#e0204a"/>
<line x1="156.9" y1="253.4" x2="156.9" y2="266.5" stroke="#e0204a" stroke-width="1.1"/>
<line x1="154.9" y1="253.4" x2="158.9" y2="253.4" stroke="#e0204a" stroke-width="1.1"/>
<line x1="154.9" y1="266.5" x2="158.9" y2="266.5" stroke="#e0204a" stroke-width="1.1"/>
<rect x="155.1" y="257.5" width="3.6" height="3.6" fill="#111" />
<path d="M156.9,258.75 L159.06,262.62 L154.74,262.62 Z" fill="#e0204a"/>
<line x1="171.5" y1="265.3" x2="171.5" y2="274.2" stroke="#e0204a" stroke-width="1.1"/>
<line x1="169.5" y1="265.3" x2="173.5" y2="265.3" stroke="#e0204a" stroke-width="1.1"/>
<line x1="169.5" y1="274.2" x2="173.5" y2="274.2" stroke="#e0204a" stroke-width="1.1"/>
<path d="M171.5,268.125 L173.78,272.21 L169.22,272.21 Z" fill="#e0204a"/>
<rect x="169.9" y="271.9" width="3.2" height="3.2" fill="#111" />
<line x1="186.5" y1="285.1" x2="186.5" y2="294.7" stroke="#e0204a" stroke-width="1.1"/>
<line x1="184.5" y1="285.1" x2="188.5" y2="285.1" stroke="#e0204a" stroke-width="1.1"/>
<line x1="184.5" y1="294.7" x2="188.5" y2="294.7" stroke="#e0204a" stroke-width="1.1"/>
<path d="M186.5,288.725 L188.78,292.81 L184.22,292.81 Z" fill="#e0204a"/>
<line x1="186.5" y1="294.0" x2="186.5" y2="308.4" stroke="#111" stroke-width="1.1"/>
<line x1="184.5" y1="294.0" x2="188.5" y2="294.0" stroke="#111" stroke-width="1.1"/>
<line x1="184.5" y1="308.4" x2="188.5" y2="308.4" stroke="#111" stroke-width="1.1"/>
<rect x="184.7" y="297.09999999999997" width="3.6" height="3.6" fill="#111" />
<rect x="199.1" y="336.90000000000003" width="3.8" height="3.8" fill="#111" />
<rect x="213.9" y="336.90000000000003" width="3.8" height="3.8" fill="#e0204a" />
<rect x="170.0" y="211.2" width="3.6" height="3.6" fill="#111" />
<text x="176.2" y="215.6" font-size="7.1" text-anchor="start" fill="#111" ><tspan font-style="italic">Ptc1+/-p53-/-</tspan> 302</text>
<path d="M172.3,220.5 L174.70000000000002,224.8 L169.9,224.8 Z" fill="#e0204a"/>
<text x="176.2" y="225.6" font-size="7.1" text-anchor="start" fill="#111" ><tspan font-style="italic">Ptc1+/-p53-/-</tspan> 304</text>
<text x="0" y="0" font-size="7" text-anchor="start" fill="#222" transform="translate(285.8,256.2) rotate(-90)" ><tspan font-style="italic">Ptc1+/-p53-/-</tspan> 302</text>
<text x="0" y="0" font-size="7" text-anchor="start" fill="#222" transform="translate(317.3,256.2) rotate(-90)" ><tspan font-style="italic">Ptc1+/-p53-/-</tspan> 304</text>
<line x1="271.7" y1="257.8" x2="297.8" y2="257.8" stroke="#666" stroke-width="1.3"/>
<line x1="301.5" y1="257.8" x2="326.8" y2="257.8" stroke="#666" stroke-width="1.3"/>
<text x="277.9" y="264.2" font-size="6.5" text-anchor="middle" fill="#111" >-</text>
<text x="291.3" y="264.2" font-size="6.5" text-anchor="middle" fill="#111" >+</text>
<text x="307.3" y="264.2" font-size="6.5" text-anchor="middle" fill="#111" >-</text>
<text x="320.2" y="264.2" font-size="6.5" text-anchor="middle" fill="#111" >+</text>
<text x="329.2" y="264.5" font-size="7" text-anchor="start" fill="#111" textLength="18" lengthAdjust="spacingAndGlyphs" >DAPT</text>
<rect x="271.5" y="265.0" width="56.4" height="13.5" fill="#0a0a0a" />
<text x="269.4" y="274.35" font-size="7.4" text-anchor="end" fill="#111" font-style="italic" textLength="15.6" lengthAdjust="spacingAndGlyphs" class="md">Hes1</text>
<rect x="271.5" y="279.8" width="56.4" height="10.599999999999966" fill="#0a0a0a" />
<text x="269.4" y="287.70000000000005" font-size="7.4" text-anchor="end" fill="#111" font-style="italic" textLength="15.6" lengthAdjust="spacingAndGlyphs" class="md">Hes5</text>
<rect x="271.5" y="292.7" width="56.4" height="12.100000000000023" fill="#0a0a0a" />
<text x="269.4" y="301.35" font-size="7.4" text-anchor="end" fill="#111" font-style="italic" textLength="15.6" lengthAdjust="spacingAndGlyphs" class="md">Actin</text>
<rect x="272.55" y="270.40" width="12.10" height="3.90" rx="1.60" fill="#fff" opacity="0.43"/>
<rect x="273.35" y="271.00" width="10.50" height="2.70" rx="1.10" fill="#fff" opacity="0.95"/>
<rect x="286.05" y="271.20" width="11.10" height="2.30" rx="1.15" fill="#aaa" opacity="0.36"/>
<rect x="286.85" y="271.80" width="9.50" height="1.10" rx="0.55" fill="#aaa" opacity="0.8"/>
<rect x="300.10" y="270.30" width="12.60" height="4.50" rx="1.60" fill="#fff" opacity="0.45"/>
<rect x="300.90" y="270.90" width="11.00" height="3.30" rx="1.10" fill="#fff" opacity="1.0"/>
<rect x="314.60" y="270.80" width="11.60" height="3.10" rx="1.55" fill="#ccc" opacity="0.38"/>
<rect x="315.40" y="271.40" width="10.00" height="1.90" rx="0.95" fill="#ccc" opacity="0.85"/>
<rect x="272.55" y="283.65" width="12.10" height="3.70" rx="1.60" fill="#fff" opacity="0.43"/>
<rect x="273.35" y="284.25" width="10.50" height="2.50" rx="1.10" fill="#fff" opacity="0.95"/>
<rect x="286.30" y="284.45" width="10.60" height="2.10" rx="1.05" fill="#888" opacity="0.34"/>
<rect x="287.10" y="285.05" width="9.00" height="0.90" rx="0.45" fill="#888" opacity="0.75"/>
<rect x="300.10" y="283.25" width="12.60" height="4.70" rx="1.60" fill="#fff" opacity="0.45"/>
<rect x="300.90" y="283.85" width="11.00" height="3.50" rx="1.10" fill="#fff" opacity="1.0"/>
<rect x="314.60" y="283.85" width="11.60" height="3.30" rx="1.60" fill="#bbb" opacity="0.38"/>
<rect x="315.40" y="284.45" width="10.00" height="2.10" rx="1.05" fill="#bbb" opacity="0.85"/>
<rect x="272.80" y="296.60" width="11.60" height="4.10" rx="1.60" fill="#fff" opacity="0.43"/>
<rect x="273.60" y="297.20" width="10.00" height="2.90" rx="1.10" fill="#fff" opacity="0.95"/>
<rect x="285.40" y="296.30" width="12.40" height="5.10" rx="1.60" fill="#fff" opacity="0.45"/>
<rect x="286.20" y="296.90" width="10.80" height="3.90" rx="1.10" fill="#fff" opacity="1.0"/>
<rect x="300.00" y="296.40" width="12.80" height="5.50" rx="1.60" fill="#fff" opacity="0.45"/>
<rect x="300.80" y="297.00" width="11.20" height="4.30" rx="1.10" fill="#fff" opacity="1.0"/>
<rect x="314.50" y="296.60" width="11.80" height="4.90" rx="1.60" fill="#fff" opacity="0.44"/>
<rect x="315.30" y="297.20" width="10.20" height="3.70" rx="1.10" fill="#fff" opacity="0.97"/>
<text x="418.8" y="211.9" font-size="7.2" text-anchor="start" fill="#111" textLength="52" lengthAdjust="spacingAndGlyphs" >Hes1 expression</text>
<text x="408.7" y="218.2" font-size="6.5" text-anchor="middle" fill="#111" >-</text>
<text x="432.3" y="217.4" font-size="6.5" text-anchor="middle" fill="#111" >+</text>
<text x="455.4" y="218.2" font-size="6.5" text-anchor="middle" fill="#111" >-</text>
<text x="477.9" y="217.4" font-size="6.5" text-anchor="middle" fill="#111" >+</text>
<text x="484.8" y="217.4" font-size="7.2" text-anchor="start" fill="#111" textLength="17.5" lengthAdjust="spacingAndGlyphs" >DAPT</text>
<rect x="396.8" y="219.3" width="93.19999999999999" height="80.2" fill="#fff" stroke="#555" stroke-width="0.9"/>
<line x1="396.8" y1="224.2" x2="490.0" y2="224.2" stroke="#555" stroke-width="0.9"/>
<line x1="396.8" y1="228.4" x2="490.0" y2="228.4" stroke="#555" stroke-width="0.9"/>
<line x1="396.8" y1="246.2" x2="490.0" y2="246.2" stroke="#555" stroke-width="0.9"/>
<line x1="396.8" y1="263.7" x2="490.0" y2="263.7" stroke="#555" stroke-width="0.9"/>
<line x1="396.8" y1="281.2" x2="490.0" y2="281.2" stroke="#555" stroke-width="0.9"/>
<line x1="396.8" y1="299.5" x2="490.0" y2="299.5" stroke="#333" stroke-width="1.1"/>
<text x="392.2" y="230.8" font-size="7" text-anchor="end" fill="#111" >1</text>
<line x1="395.4" y1="228.4" x2="396.8" y2="228.4" stroke="#555" stroke-width="0.9"/>
<text x="392.2" y="248.6" font-size="7" text-anchor="end" fill="#111" >-4</text>
<line x1="395.4" y1="246.2" x2="396.8" y2="246.2" stroke="#555" stroke-width="0.9"/>
<text x="392.2" y="266.09999999999997" font-size="7" text-anchor="end" fill="#111" >-8</text>
<line x1="395.4" y1="263.7" x2="396.8" y2="263.7" stroke="#555" stroke-width="0.9"/>
<text x="392.2" y="283.59999999999997" font-size="7" text-anchor="end" fill="#111" >-12</text>
<line x1="395.4" y1="281.2" x2="396.8" y2="281.2" stroke="#555" stroke-width="0.9"/>
<text x="392.2" y="301.9" font-size="7" text-anchor="end" fill="#111" >-16</text>
<line x1="395.4" y1="299.5" x2="396.8" y2="299.5" stroke="#555" stroke-width="0.9"/>
<line x1="420.0" y1="224.2" x2="420.0" y2="225.6" stroke="#777" stroke-width="0.8"/>
<line x1="443.1" y1="224.2" x2="443.1" y2="225.6" stroke="#777" stroke-width="0.8"/>
<line x1="467.1" y1="224.2" x2="467.1" y2="225.6" stroke="#777" stroke-width="0.8"/>
<rect x="427.0" y="224.2" width="9.2" height="72.1" fill="#000" />
<rect x="473.8" y="224.2" width="9.4" height="67.7" fill="#f01c2c" />
<text x="0" y="0" font-size="7" text-anchor="middle" fill="#111" textLength="62" lengthAdjust="spacingAndGlyphs" transform="translate(368.4,263.0) rotate(-90)" >Fold change relative</text>
<text x="0" y="0" font-size="7" text-anchor="middle" fill="#111" textLength="31" lengthAdjust="spacingAndGlyphs" transform="translate(376.9,262.8) rotate(-90)" >to vehicle</text>
<rect x="416.3" y="305.0" width="3.7" height="3.7" fill="#000" />
<text x="421.3" y="309.2" font-size="7.15" text-anchor="start" fill="#111" ><tspan font-style="italic">Ptc1+/-p53-/-</tspan> 302</text>
<rect x="416.3" y="312.4" width="3.7" height="3.7" fill="#f01c2c" />
<text x="421.3" y="316.5" font-size="7.15" text-anchor="start" fill="#111" ><tspan font-style="italic">Ptc1+/-p53-/-</tspan> 304</text>
</svg></body></html>
